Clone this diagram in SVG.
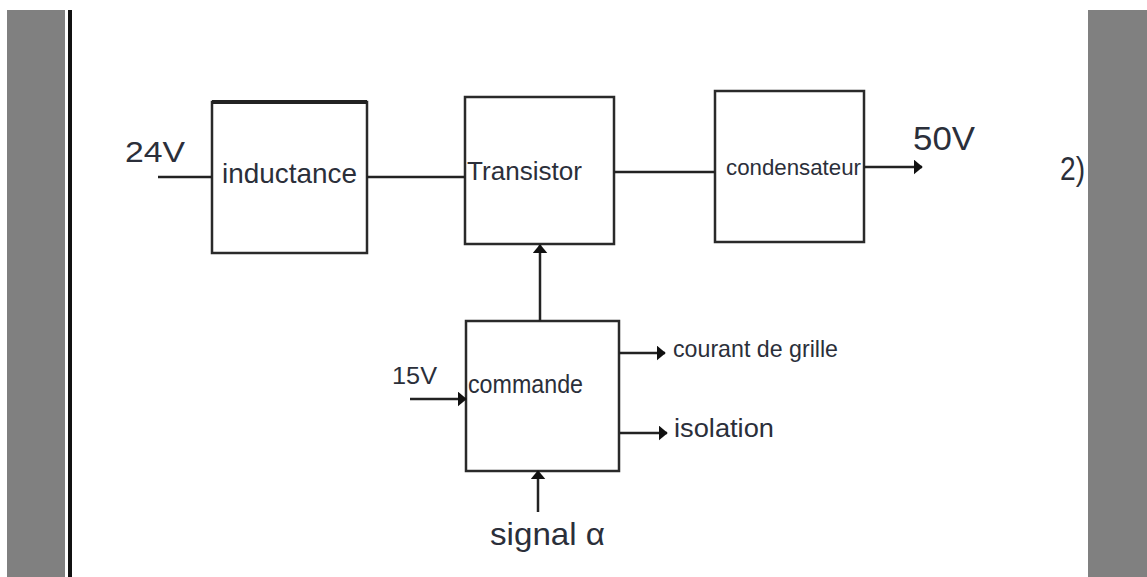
<svg xmlns="http://www.w3.org/2000/svg" width="1147" height="577" viewBox="0 0 1147 577">
<defs>
<style>
.box{fill:#fff;stroke:#2a2a2a;stroke-width:2.5}
.ln{stroke:#222;stroke-width:2.5;fill:none}
.t{font-family:"Liberation Sans",Arial,sans-serif;fill:#2b2f3a}
</style>
<marker id="ah" viewBox="0 0 6 10" refX="5.5" refY="5" markerWidth="3.6" markerHeight="6" orient="auto" markerUnits="strokeWidth">
<path d="M0,0 L6,5 L0,10 z" fill="#111"/>
</marker>
</defs>
<rect width="1147" height="577" fill="#fff"/>
<rect x="7" y="10" width="58" height="567" fill="#808080"/>
<rect x="68" y="10" width="4" height="567" fill="#111"/>
<rect x="1088" y="10" width="59" height="567" fill="#808080"/>

<g id="inductance">
<rect class="box" x="212" y="102" width="155" height="151"/>
<line x1="212" y1="102" x2="367" y2="102" stroke="#222" stroke-width="4"/>
<text class="t" x="222" y="183" font-size="28" textLength="135" lengthAdjust="spacingAndGlyphs">inductance</text>
</g>
<g id="transistor">
<rect class="box" x="465" y="97" width="149" height="147"/>
<text class="t" x="467" y="180" font-size="26" textLength="115" lengthAdjust="spacingAndGlyphs">Transistor</text>
</g>
<g id="condensateur">
<rect class="box" x="715" y="91" width="149" height="151"/>
<text class="t" x="726" y="175" font-size="22" textLength="135" lengthAdjust="spacingAndGlyphs">condensateur</text>
</g>
<g id="commande">
<rect class="box" x="466" y="321" width="153" height="150"/>
<text class="t" x="468" y="393" font-size="26" textLength="115" lengthAdjust="spacingAndGlyphs">commande</text>
</g>

<g id="labels">
<text class="t" x="125" y="162" font-size="30" textLength="60" lengthAdjust="spacingAndGlyphs">24V</text>
<text class="t" x="913" y="150" font-size="34" textLength="62" lengthAdjust="spacingAndGlyphs">50V</text>
<text class="t" x="1060" y="180" font-size="34" textLength="25" lengthAdjust="spacingAndGlyphs">2)</text>
<text class="t" x="392" y="384" font-size="24" textLength="45" lengthAdjust="spacingAndGlyphs">15V</text>
<text class="t" x="673" y="357" font-size="24" textLength="165" lengthAdjust="spacingAndGlyphs">courant de grille</text>
<text class="t" x="674" y="437" font-size="26" textLength="100" lengthAdjust="spacingAndGlyphs">isolation</text>
<text class="t" x="490" y="545" font-size="32" textLength="115" lengthAdjust="spacingAndGlyphs">signal α</text>
</g>

<g id="connectors">
<line class="ln" x1="158" y1="177" x2="212" y2="177"/>
<line class="ln" x1="367" y1="177" x2="465" y2="177"/>
<line class="ln" x1="614" y1="172" x2="715" y2="172"/>
<line class="ln" x1="864" y1="167" x2="922" y2="167" stroke-width="3" marker-end="url(#ah)"/>
<line class="ln" x1="540" y1="321" x2="540" y2="245" marker-end="url(#ah)"/>
<line class="ln" x1="410" y1="399" x2="466" y2="399" marker-end="url(#ah)"/>
<line class="ln" x1="619" y1="353" x2="665" y2="353" stroke-width="3" marker-end="url(#ah)"/>
<line class="ln" x1="620" y1="433" x2="667" y2="433" stroke-width="3" marker-end="url(#ah)"/>
<line class="ln" x1="538" y1="512" x2="538" y2="471" marker-end="url(#ah)"/>
</g>
</svg>
